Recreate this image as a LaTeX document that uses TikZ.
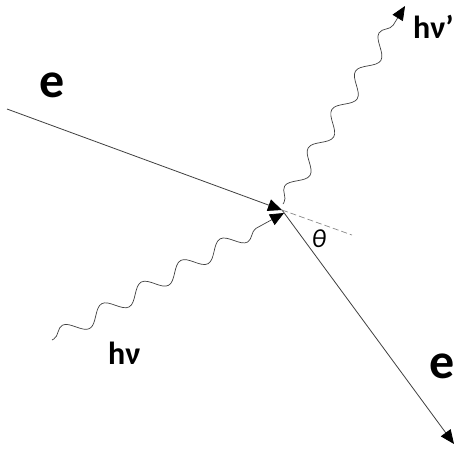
\documentclass[tikz,border=0pt]{standalone}
\usepackage{fontspec}
\setmainfont{Carlito}
\usetikzlibrary{arrows.meta,decorations.pathmorphing}
\begin{document}
\begin{tikzpicture}[x=1pt,y=-1pt,
  line/.style={draw=black!75,line width=0.8pt},
  tip/.style={-{Triangle[length=14pt,width=12pt,color=black,fill=black]}},
  photon/.style={draw=black!75,line width=0.7pt,decorate,
     decoration={snake,segment length=45pt,amplitude=8pt,pre length=2pt,post length=10pt}},
  lbl/.style={inner sep=0pt,anchor=base west,font=\bfseries},
]
\useasboundingbox (0,0) rectangle (454,450);
\fill[white] (0,0) rectangle (454,450);
% points
\coordinate (ein) at (7,109);
\coordinate (v) at (282,210);
\coordinate (eout) at (454,444);
\coordinate (dend) at (352,235);
\coordinate (gin) at (52,340);
\coordinate (gtip) at (284,213);
\coordinate (gstart) at (283,204);
\coordinate (gout) at (405,6);
% electrons
\draw[line,tip] (ein) -- (v);
\draw[line,tip] (v) -- (eout);
\draw[draw=black!45,line width=0.7pt,dashed,dash pattern=on 6pt off 3pt] (v) -- (dend);
% photons
\draw[photon,tip] (gin) -- (gtip);
\draw[photon,tip] (gstart) -- (gout);
% labels
\node[lbl,font=\bfseries\fontsize{50}{50}\selectfont] (le1) at (39,97) {e};
\node[lbl,font=\bfseries\fontsize{50}{50}\selectfont] (le2) at (429,378) {e};
\node[lbl,font=\bfseries\fontsize{32}{32}\selectfont] (lg1) at (108,364) {hν};
\node[lbl,font=\bfseries\fontsize{32}{32}\selectfont] (lg2) at (413,38) {hν'};
\node[inner sep=0pt,font=\itshape\fontsize{26}{26}\selectfont] (th) at (319,239) {θ};
\end{tikzpicture}
\end{document}
